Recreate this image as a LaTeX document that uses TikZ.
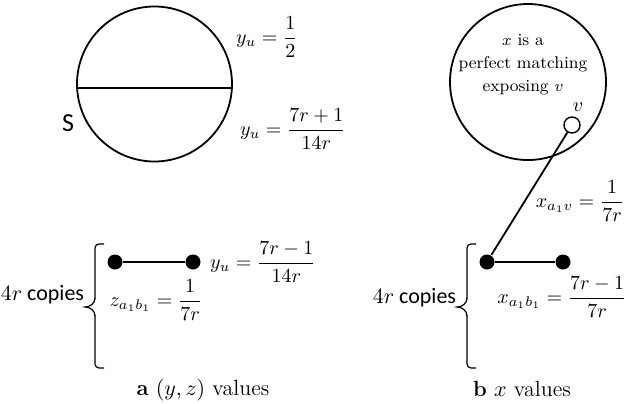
\documentclass[tikz,border=0pt]{standalone}
\usepackage{amsmath}
\usepackage{fontspec}
\newfontfamily\carfont{Carlito}

\begin{document}
\begin{tikzpicture}[x=0.5pt,y=-0.5pt,line width=0.9pt,
	dot/.style={circle,fill,inner sep=0pt,minimum size=7.5pt},
	val/.style={inner sep=0pt,font=\fontsize{10}{12}\selectfont},
	copies/.style={inner sep=0pt,anchor=base east,font=\carfont\fontsize{11}{13}\selectfont},
	capt/.style={inner sep=0pt,font=\fontsize{11}{13}\selectfont}]
		\useasboundingbox (0,0) rectangle (627,403);
		
		% (a)
		\node[draw,circle,inner sep=0pt,minimum size=77.5pt] (S) at (154.5,84) {};
		\draw (S.183.7) to (S.-3.7);
		\node[inner sep=0pt,font=\carfont\fontsize{13}{15}\selectfont] (Slab) at (68,123) {S};
		\node[val] (yhalf) at (267,37) {$y_u=\dfrac{1}{2}$};
		\node[val] (yplus) at (293,129) {$y_u=\dfrac{7r+1}{14r}$};
		\node[val] (yminus) at (263,262) {$y_u=\dfrac{7r-1}{14r}$};
		\node[val] (zval) at (156,300) {$z_{a_1b_1}=\dfrac{1}{7r}$};
		\node[capt] (capa) at (203,390) {\textbf{a} $(y,z)$ values};
		
		% (b)
		\node[draw,circle,inner sep=0pt,minimum size=78pt] (M) at (528,82) {};
		\node[inner sep=0pt,align=center,font=\fontsize{8.5}{11.5}\selectfont] (Mtext) at (523,65) {$x$ is a\\perfect matching\\exposing $v$};
		\node[draw,circle,inner sep=0pt,minimum size=8pt,line width=0.7pt] (v) at (572,125) {};
		\node[inner sep=0pt,font=\fontsize{10}{12}\selectfont] (vlab) at (578,107) {$v$};
		\node[val] (xav) at (580,201) {$x_{a_1v}=\dfrac{1}{7r}$};
		\node[val] (xab) at (562,297) {$x_{a_1b_1}=\dfrac{7r-1}{7r}$};
		\node[capt] (capb) at (522,389) {\textbf{b} $x$ values};
		
		% dots, edges and braces
		\foreach \p/\xa/\xb/\xk/\yc in {a/115/193/95/300, b/487/563/467/303}
		{
		\node[dot] (\p-a1) at (\xa,262) {};
		\node[dot] (\p-b1) at (\xb,262) {};
		\draw (\p-a1) to (\p-b1);
		\draw[line width=0.6pt,rounded corners=2pt] (\xk+9,244) to (\xk,244) to (\xk,299);
		\draw[line width=0.6pt] (\xk,298) to[out=270,in=0] (\xk-10,307) to[out=0,in=90] (\xk,316);
		\draw[line width=0.6pt,rounded corners=2pt] (\xk,315) to (\xk,368) to (\xk+9,368);
		\node[copies] (\p-cp) at (\xk-10,\yc) {$4r$ copies};
		}
		\draw (v) to (b-a1);
	\end{tikzpicture}
\end{document}
